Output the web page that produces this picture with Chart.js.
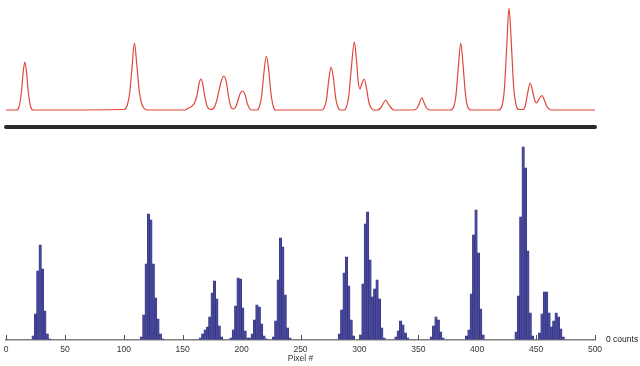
<!DOCTYPE html>
<html lang="en">
<head>
  <meta charset="UTF-8">
  <title>Spectrum and pixel histogram</title>
  <style>
    body {
      margin: 0;
      padding: 0;
      background-color: #fff;
    }

    #chart-container {
      width: 640px;
      height: 366px;
    }
  </style>
  <script src="https://cdn.jsdelivr.net/npm/chart.js"></script>
</head>
<body>
  <div id="chart-container">
    <canvas id="pixelChart" width="640" height="366"></canvas>
  </div>

  <script>
    // Spectrum trace (top, red)
    const specX = [0, 9, 11, 13, 14.5, 16, 17.5, 19, 21, 23,
      100, 103, 105, 107, 109, 111, 113, 115, 117, 120,
      152, 155, 158, 160, 162, 164, 165.5, 167, 169, 171, 173.5,
      176, 178, 180, 183, 185, 187, 189, 191, 193,
      195, 197, 199, 201, 203, 205, 207, 209,
      213, 215, 217, 219, 221, 223, 225, 227, 229,
      268, 270, 272, 274, 276, 278, 280, 282, 284,
      287, 289, 291, 293, 295.7, 297.5, 299, 300.5, 302, 304, 306, 308, 310, 312,
      315, 318, 320, 322.3, 324.5, 327, 329,
      346, 349, 351, 353, 355, 357, 360,
      377, 380, 382, 384, 386, 388, 390, 392, 395,
      418, 421, 423, 425, 427, 429, 431, 433, 435.5,
      439, 441, 443, 445, 447, 449, 450.5, 452, 455, 457, 459, 461, 463, 500];
    const specY = [0, 0, 3, 17, 37, 48, 37, 17, 3, 0,
      0.5, 5, 17, 43, 67, 46, 20, 7, 2, 0,
      0, 2, 4, 7, 14, 27, 31, 26, 12, 3, 0.5,
      1.5, 6, 15, 30, 34, 28, 13, 3, 1,
      3, 10, 17, 19, 15, 6, 1, 0,
      0, 3, 14, 38, 54, 40, 16, 3, 0,
      0, 2, 10, 30, 43, 31, 11, 2, 0,
      0, 3, 14, 40, 68, 50, 28, 21, 26, 31, 22, 8, 2, 0,
      0, 2, 6, 10, 6, 2, 0,
      0, 2, 7, 12.5, 7, 2, 0,
      0, 3, 15, 43, 67, 45, 16, 3, 0,
      0, 4, 20, 62, 102, 66, 22, 5, 0.5,
      0.5, 5, 18, 27, 19, 9, 7, 10, 14.5, 10, 4, 1, 0, 0];

    // Slit / detector strip
    const slitX = [0, 500];

    // Histogram (bin start pixel, counts), 2-pixel bins
    const histBins = [22, 24, 26, 28, 30, 32, 34, 36,
      114, 116, 118, 120, 122, 124, 126, 128, 130, 132,
      164, 166, 168, 170, 172, 174, 176, 178, 180, 182,
      190, 192, 194, 196, 198, 200, 202, 204,
      206, 208, 210, 212, 214, 216, 218, 220,
      226, 228, 230, 232, 234, 236, 238, 240,
      282, 284, 286, 288, 290, 292, 294,
      300, 302, 304, 306, 308, 310, 312, 314, 316, 318, 320,
      330, 332, 334, 336, 338, 340,
      360, 362, 364, 366, 368, 370,
      390, 392, 394, 396, 398, 400, 402, 404,
      432, 434, 436, 438, 440, 442, 444, 446,
      452, 454, 456, 458, 460, 462, 464, 466, 468, 470, 472];
    const histCounts = [4, 26, 69, 95, 71, 29, 6, 1,
      3, 25, 76, 126, 120, 76, 42, 21, 6, 1,
      2, 6, 10, 13, 23, 47, 59, 41, 14, 3,
      2, 10, 34, 62, 61, 32, 9, 2,
      2, 6, 20, 35, 33, 16, 4, 1,
      3, 19, 60, 102, 93, 45, 12, 2,
      6, 30, 67, 83, 54, 20, 4,
      5, 56, 116, 128, 80, 43, 51, 60, 41, 12, 2,
      3, 9, 19, 15, 7, 2,
      3, 14, 23, 20, 8, 2,
      4, 10, 46, 105, 130, 87, 31, 5,
      8, 44, 123, 193, 172, 89, 27, 4,
      7, 26, 48, 48, 27, 13, 19, 27, 23, 11, 3];
    const BIN_WIDTH = 2;

    const xTicks = [0, 50, 100, 150, 200, 250, 300, 350, 400, 450, 500];

    // vertical layout of the three bands inside the plot area
    const AREA_TOP = 4.25, AREA_BOTTOM = 340;
    const band = (zeroY, pxPerUnit) => ({
      min: -(AREA_BOTTOM - zeroY) / pxPerUnit,
      max: (zeroY - AREA_TOP) / pxPerUnit
    });

    Chart.defaults.font.family = "'Liberation Sans', Arial, sans-serif";
    Chart.defaults.color = '#333';

    // small tick marks pointing up into the plot
    const innerTicks = {
      id: 'innerTicks',
      afterDatasetsDraw(chart) {
        const xs = chart.scales.x;
        const ctx = chart.ctx;
        ctx.save();
        ctx.strokeStyle = '#555';
        ctx.lineWidth = 1;
        xs.ticks.forEach((t) => {
          const px = Math.round(xs.getPixelForValue(t.value)) + 0.5;
          ctx.beginPath();
          ctx.moveTo(px, xs.top);
          ctx.lineTo(px, xs.top - 5);
          ctx.stroke();
        });
        ctx.restore();
      }
    };

    const ctx = document.getElementById('pixelChart').getContext('2d');
    new Chart(ctx, {
      type: 'bar',
      data: {
        datasets: [
          {
            type: 'line',
            data: specX.map((x, i) => ({ x, y: specY[i] })),
            yAxisID: 'ySpec',
            borderColor: '#e0473b',
            borderWidth: 1.2,
            pointRadius: 0,
            cubicInterpolationMode: 'monotone',
            clip: false
          },
          {
            type: 'line',
            data: slitX.map((x) => ({ x, y: 0 })),
            yAxisID: 'ySlit',
            borderColor: '#2a2a2a',
            borderWidth: 4,
            borderCapStyle: 'round',
            pointRadius: 0,
            clip: false
          },
          {
            data: histBins.map((b, i) => ({ x: b + BIN_WIDTH / 2, y: histCounts[i] })),
            yAxisID: 'yHist',
            backgroundColor: '#48489c',
            borderColor: '#2c2c70',
            borderWidth: 0.5,
            inflateAmount: 0.4,
            barPercentage: 1,
            categoryPercentage: 1
          }
        ]
      },
      options: {
        responsive: false,
        animation: false,
        layout: { padding: { top: 4, left: 6, right: 0, bottom: 0 } },
        plugins: { legend: { display: false }, tooltip: { enabled: false } },
        scales: {
          x: {
            type: 'linear',
            min: 0,
            max: 500,
            offset: false,
            afterBuildTicks: (s) => { s.ticks = xTicks.map((v) => ({ value: v })); },
            afterFit: (s) => { s.paddingLeft = 0; s.paddingRight = 0; },
            grid: { display: false, offset: false, drawTicks: false },
            border: { display: true, color: '#808080', width: 1.5 },
            ticks: { font: { size: 8.5, lineHeight: 1 }, color: '#333', padding: 5, maxRotation: 0 },
            title: {
              display: true, text: 'Pixel #', font: { size: 8.5, lineHeight: 1 }, color: '#333',
              padding: { top: -4, bottom: 3 }
            }
          },
          yHist: {
            position: 'right',
            min: 0,
            max: AREA_BOTTOM - AREA_TOP,
            afterBuildTicks: (s) => { s.ticks = [{ value: 0 }]; },
            afterFit: (s) => { s.width = 45; },
            grid: { display: true, drawOnChartArea: false, drawTicks: true, tickLength: 11, color: 'rgba(0,0,0,0)' },
            border: { display: false },
            ticks: { callback: () => '0 counts', font: { size: 8.5, lineHeight: 1 }, color: '#222', padding: 0 }
          },
          ySpec: { display: false, ...band(110, 1) },
          ySlit: { display: false, ...band(127, 1) }
        }
      },
      plugins: [innerTicks]
    });
  </script>
</body>
</html>
